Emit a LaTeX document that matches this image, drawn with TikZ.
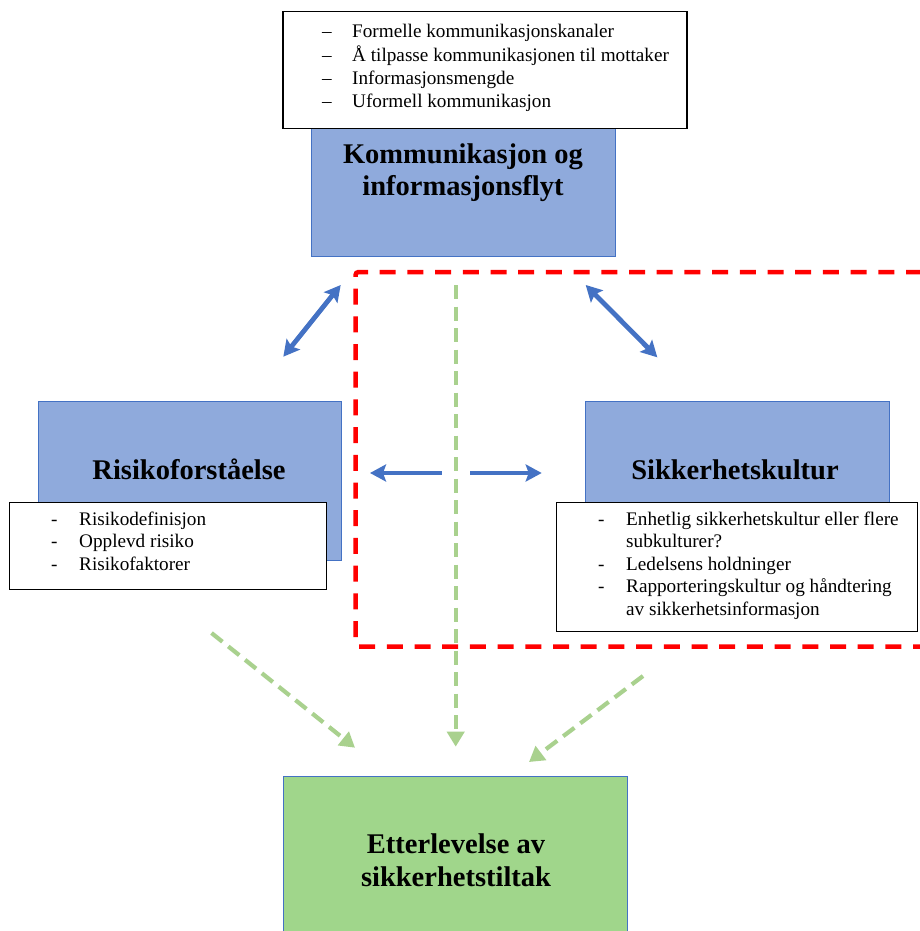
\documentclass[tikz,border=0pt]{standalone}
\usepackage{fontspec}
\setmainfont{Liberation Serif}
\usetikzlibrary{arrows.meta}
\definecolor{boxblue}{HTML}{8FAADC}
\definecolor{lineblue}{HTML}{4472C4}
\definecolor{boxgreen}{HTML}{A0D68B}
\definecolor{dashgreen}{HTML}{A9D18E}
\definecolor{dashred}{HTML}{FF0000}
\tikzset{
  bluebox/.style={draw=lineblue, fill=boxblue, line width=1pt, inner sep=0pt},
  greenbox/.style={draw=lineblue, fill=boxgreen, line width=1pt, inner sep=0pt},
  listbox/.style={draw=black, fill=white, line width=1.3pt, inner sep=0pt},
  heading/.style={anchor=base, inner sep=0pt, font=\fontsize{28.5}{34}\selectfont\bfseries},
  listline/.style={anchor=base west, inner sep=0pt, font=\fontsize{19.2}{23}\selectfont},
  bluearrow/.style={draw=lineblue, line width=4.8pt, arrows={Stealth[length=16pt,width=17pt,inset=3pt]-Stealth[length=16pt,width=17pt,inset=3pt]}},
  bluearrowone/.style={draw=lineblue, line width=4.8pt, -{Stealth[length=16pt,width=17pt,inset=3pt]}},
  greenarrow/.style={draw=dashgreen, line width=4.2pt, dash pattern=on 14pt off 7.5pt, -{Triangle[length=15pt,width=17pt]}},
  redframe/.style={draw=dashred, line width=4.5pt, dash pattern=on 16pt off 11.7pt, rounded corners=3pt}
}
\begin{document}
\begin{tikzpicture}[x=1pt,y=-1pt]
\clip (0,0) rectangle (920,931);
\fill[white] (0,0) rectangle (920,931);

% boxes
\node[bluebox, minimum width=303.3pt, minimum height=151.7pt] (kombox) at (463.4,180.9) {};
\node[listbox, minimum width=404pt, minimum height=116.8pt] (komlist) at (485,69.9) {};
\node[bluebox, minimum width=303.4pt, minimum height=159pt] (risbox) at (190,480.5) {};
\node[listbox, minimum width=317.4pt, minimum height=87pt] (rislist) at (168,545.8) {};
\node[bluebox, minimum width=303.3pt, minimum height=159pt] (sikbox) at (737.35,480.5) {};
\node[listbox, minimum width=361pt, minimum height=129pt] (siklist) at (737.2,567.2) {};
\node[greenbox, minimum width=344.7pt, minimum height=168.3pt] (ettbox) at (455.35,860.85) {};

% headings
\node[heading] (komh1) at (463,163) {Kommunikasjon og};
\node[heading] (komh2) at (463,195) {informasjonsflyt};
\node[heading] (rish) at (189,479) {Risikoforståelse};
\node[heading] (sikh) at (735,479) {Sikkerhetskultur};
\node[heading] (etth1) at (456,853) {Etterlevelse av};
\node[heading] (etth2) at (456,886) {sikkerhetstiltak};

% top list
\node[listline] (kd1) at (322,38) {–};
\node[listline] (kl1) at (352,38) {Formelle kommunikasjonskanaler};
\node[listline] (kd2) at (322,61.3) {–};
\node[listline] (kl2) at (352,61.3) {Å tilpasse kommunikasjonen til mottaker};
\node[listline] (kd3) at (322,84.6) {–};
\node[listline] (kl3) at (352,84.6) {Informasjonsmengde};
\node[listline] (kd4) at (322,108) {–};
\node[listline] (kl4) at (352,108) {Uformell kommunikasjon};

% left list
\node[listline] (rd1) at (51,525) {-};
\node[listline] (rl1) at (79,525) {Risikodefinisjon};
\node[listline] (rd2) at (51,547.5) {-};
\node[listline] (rl2) at (79,547.5) {Opplevd risiko};
\node[listline] (rd3) at (51,570) {-};
\node[listline] (rl3) at (79,570) {Risikofaktorer};

% right list
\node[listline] (sd1) at (598,525) {-};
\node[listline] (sl1) at (626,525) {Enhetlig sikkerhetskultur eller flere};
\node[listline] (sl1b) at (626,547.5) {subkulturer?};
\node[listline] (sd2) at (598,570) {-};
\node[listline] (sl2) at (626,570) {Ledelsens holdninger};
\node[listline] (sd3) at (598,592.5) {-};
\node[listline] (sl3) at (626,592.5) {Rapporteringskultur og håndtering};
\node[listline] (sl3b) at (626,615) {av sikkerhetsinformasjon};

% red dashed frame
\coordinate (rA) at (922,272);
\coordinate (rB) at (355.5,272);
\coordinate (rC) at (355.5,646.5);
\coordinate (rD) at (922,646.5);
\draw[redframe] (rA) -- (rB) -- (rC) -- (rD);

% blue arrows
\coordinate (b1a) at (283.3,356.7);
\coordinate (b1b) at (340.7,285);
\coordinate (b2a) at (585.7,285);
\coordinate (b2b) at (657.3,357.3);
\coordinate (b3a) at (441.7,473);
\coordinate (b3b) at (370,473);
\coordinate (b4a) at (470,473);
\coordinate (b4b) at (541.7,473);
\draw[bluearrow] (b1a) -- (b1b);
\draw[bluearrow] (b2a) -- (b2b);
\draw[bluearrowone] (b3a) -- (b3b);
\draw[bluearrowone] (b4a) -- (b4b);

% green dashed arrows
\coordinate (g1a) at (455.7,285);
\coordinate (g1b) at (455.7,746.7);
\coordinate (g2a) at (211.5,633);
\coordinate (g2b) at (355,747.7);
\coordinate (g3a) at (643,676);
\coordinate (g3b) at (529,762);
\draw[greenarrow] (g1a) -- (g1b);
\draw[greenarrow] (g2a) -- (g2b);
\draw[greenarrow] (g3a) -- (g3b);
\end{tikzpicture}
\end{document}
